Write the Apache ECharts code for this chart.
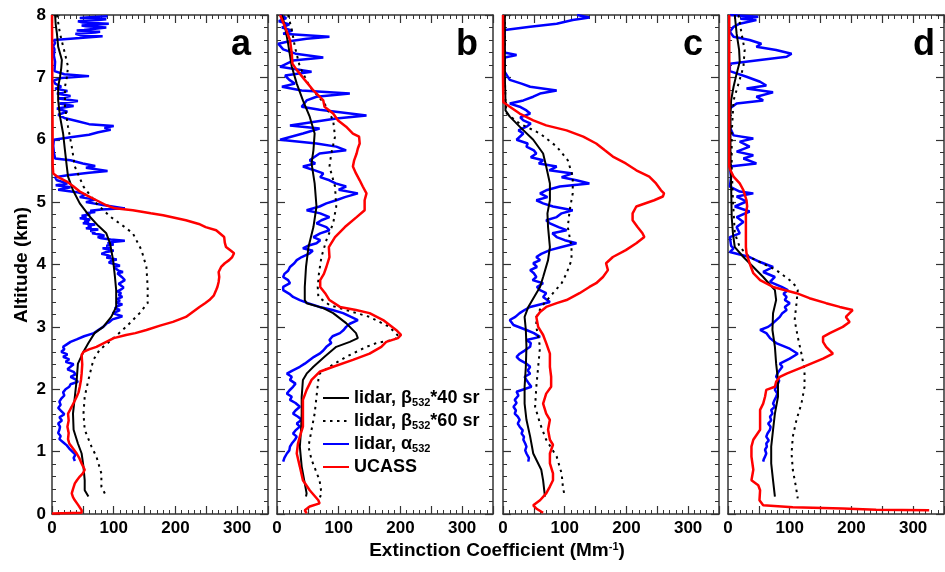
<!DOCTYPE html>
<html lang="en">
<head>
  <meta charset="UTF-8">
  <title>Extinction profiles</title>
  <script src="https://cdn.jsdelivr.net/npm/echarts@6/dist/echarts.min.js"></script>
  <style>
    body { margin: 0; background: #fff; }
    #main { width: 945px; height: 572px; }
  </style>
</head>
<body>
  <div id="main"></div>
  <script type="text/javascript">
    // each point: [altitude km, extinction Mm-1]
    var panelNames = ['a', 'b', 'c', 'd'];
    var xTicks = [0, 100, 200, 300];

    // ---- panel a ----
    var ucassA = [[8.0,0],[7.0,0.5],[6.0,1],[5.6,1],[5.46,2],[5.40,10],[5.33,24],[5.25,35],[5.17,45],[5.10,58],[5.03,72],[4.95,88],[4.90,102],[4.87,131],[4.82,160],[4.79,180],[4.71,217],[4.65,238],[4.60,249],[4.55,266],[4.44,279],[4.35,280],[4.28,282],[4.22,290],[4.18,295],[4.12,292],[4.07,287],[4.02,280],[3.96,274],[3.88,270],[3.80,271],[3.72,270],[3.64,268],[3.59,266],[3.50,262],[3.43,255],[3.38,248],[3.32,239],[3.24,228],[3.16,217],[3.08,196],[3.02,175],[2.95,153],[2.90,135],[2.87,120],[2.82,100],[2.76,88],[2.68,72],[2.64,60],[2.60,51],[2.55,48],[2.40,49],[2.25,48],[2.15,47],[2.04,45],[1.95,43],[1.88,40],[1.80,36],[1.72,32],[1.61,26],[1.50,27],[1.40,25],[1.30,27],[1.20,26],[1.13,28],[1.05,34],[0.97,40],[0.90,44],[0.81,48],[0.71,53],[0.65,50],[0.60,45],[0.55,41],[0.49,37],[0.40,34],[0.33,32],[0.27,34],[0.22,37],[0.15,42],[0.12,45],[0.06,48],[0.02,48],[0.01,0]];
    var beta40A = [[8.0,5],[7.85,6],[7.7,8],[7.49,10],[7.28,16],[7.15,15],[7.01,13],[6.85,10],[6.63,10],[6.37,13],[6.10,18],[5.83,21],[5.57,24],[5.41,26],[5.19,34],[4.98,45],[4.77,61],[4.62,75],[4.50,88],[4.34,94],[4.07,99],[3.80,102],[3.59,104],[3.32,104],[3.16,96],[3.00,83],[2.90,69],[2.74,59],[2.60,51],[2.41,42],[2.15,40],[1.88,37],[1.61,34],[1.35,35],[1.13,42],[0.97,48],[0.76,51],[0.54,53],[0.38,53],[0.28,59]];
    var beta60A = [[8.0,8],[7.7,13],[7.38,21],[7.17,26],[7.0,24],[6.85,21],[6.53,21],[6.21,26],[5.89,32],[5.57,37],[5.25,51],[4.98,72],[4.77,94],[4.62,115],[4.50,131],[4.23,145],[3.96,153],[3.64,155],[3.38,155],[3.22,142],[3.00,120],[2.84,102],[2.63,77],[2.47,67],[2.15,59],[1.88,53],[1.61,51],[1.35,53],[1.08,64],[0.92,72],[0.65,80],[0.44,80],[0.28,88]];
    var alphaA = [[7.98,90],[7.96,55],[7.95,45],[7.93,88],[7.92,75],[7.90,42],[7.88,50],[7.86,92],[7.85,80],[7.83,48],[7.82,55],[7.80,88],[7.78,85],[7.76,52],[7.75,40],[7.73,78],[7.72,70],[7.70,38],[7.68,45],[7.66,82],[7.65,80],[7.63,45],[7.62,30],[7.6,3],[7.55,5],[7.5,2],[7.45,4],[7.35,3],[7.25,5],[7.1,4],[7.05,20],[7.02,60],[6.99,15],[6.95,3],[6.9,5],[6.85,15],[6.82,5],[6.78,25],[6.74,8],[6.7,30],[6.66,10],[6.62,42],[6.58,12],[6.54,35],[6.5,8],[6.45,25],[6.4,10],[6.35,20],[6.3,40],[6.25,60],[6.22,100],[6.19,85],[6.16,95],[6.12,75],[6.08,60],[6.04,30],[6.0,3],[5.9,2],[5.8,3],[5.7,5],[5.67,30],[5.62,50],[5.58,70],[5.55,55],[5.5,90],[5.47,60],[5.43,25],[5.4,5],[5.35,8],[5.3,25],[5.27,6],[5.24,30],[5.2,10],[5.16,40],[5.12,55],[5.08,45],[5.04,70],[5.0,55],[4.95,85],[4.9,118],[4.88,80],[4.86,62],[4.84,70],[4.82,55],[4.8,62],[4.78,48],[4.76,56],[4.74,45],[4.72,62],[4.7,52],[4.68,60],[4.66,50],[4.64,70],[4.62,58],[4.6,64],[4.58,55],[4.56,75],[4.54,62],[4.52,70],[4.5,65],[4.48,78],[4.46,85],[4.44,74],[4.42,80],[4.40,95],[4.38,118],[4.36,98],[4.34,90],[4.32,100],[4.3,88],[4.28,95],[4.26,82],[4.24,92],[4.22,100],[4.2,88],[4.17,80],[4.15,90],[4.13,95],[4.11,88],[4.08,105],[4.06,96],[4.03,92],[4.0,104],[3.98,110],[3.96,100],[3.93,98],[3.9,108],[3.88,115],[3.86,106],[3.83,104],[3.8,113],[3.78,110],[3.75,118],[3.72,116],[3.69,108],[3.66,110],[3.63,116],[3.6,112],[3.57,106],[3.54,112],[3.51,108],[3.48,114],[3.45,106],[3.42,110],[3.39,104],[3.36,114],[3.33,106],[3.3,102],[3.27,110],[3.25,106],[3.22,98],[3.2,104],[3.17,114],[3.15,108],[3.12,98],[3.1,96],[3.07,92],[3.05,88],[3.0,83],[2.95,75],[2.9,68],[2.85,52],[2.8,40],[2.76,30],[2.72,24],[2.68,18],[2.64,20],[2.6,15],[2.56,25],[2.52,18],[2.48,28],[2.44,22],[2.4,35],[2.36,30],[2.32,25],[2.28,35],[2.24,38],[2.2,30],[2.16,38],[2.12,42],[2.08,30],[2.04,28],[2.0,22],[1.95,18],[1.9,20],[1.85,15],[1.8,12],[1.75,14],[1.7,10],[1.65,15],[1.6,20],[1.55,12],[1.5,16],[1.45,10],[1.4,13],[1.35,12],[1.3,10],[1.25,14],[1.2,12],[1.15,18],[1.1,24],[1.05,28],[1.0,33],[0.95,38],[0.9,35],[0.85,37]];

    // ---- panel b ----
    var ucassB = [[8.0,5],[7.81,13],[7.6,21],[7.38,24],[7.22,25],[7.12,32],[6.96,45],[6.79,59],[6.69,69],[6.63,75],[6.53,77],[6.42,91],[6.31,99],[6.21,112],[6.10,123],[6.05,133],[5.94,134],[5.86,131],[5.78,129],[5.67,125],[5.57,123],[5.46,128],[5.35,134],[5.25,139],[5.14,145],[5.03,142],[4.87,142],[4.76,129],[4.60,110],[4.44,94],[4.28,84],[4.12,85],[3.96,80],[3.85,76],[3.75,70],[3.64,70],[3.54,78],[3.43,85],[3.32,102],[3.27,128],[3.22,150],[3.11,172],[2.95,193],[2.87,201],[2.82,196],[2.76,177],[2.68,169],[2.57,150],[2.47,123],[2.36,91],[2.28,69],[2.15,56],[1.99,48],[1.83,42],[1.61,42],[1.40,42],[1.24,37],[1.13,34],[0.97,32],[0.76,37],[0.54,42],[0.38,53],[0.22,67],[0.17,69],[0.12,53],[0.06,45],[0.01,48]];
    var beta40B = [[8.0,8],[7.81,13],[7.54,18],[7.17,24],[6.90,32],[6.63,42],[6.37,53],[6.10,61],[5.83,59],[5.62,56],[5.30,61],[4.93,64],[4.60,59],[4.28,51],[3.96,47],[3.64,45],[3.43,45],[3.38,48],[3.30,75],[3.22,91],[3.06,112],[2.90,128],[2.82,131],[2.76,118],[2.68,96],[2.52,77],[2.36,59],[2.25,48],[2.15,42],[1.88,40],[1.61,40],[1.35,39],[1.08,37],[0.76,40],[0.49,45],[0.33,48],[0.28,47]];
    var beta60B = [[8.0,18],[7.76,24],[7.49,29],[7.17,37],[6.85,53],[6.58,77],[6.31,91],[6.05,94],[5.78,88],[5.57,85],[5.25,94],[4.93,96],[4.66,91],[4.39,80],[4.12,72],[3.86,68],[3.64,66],[3.48,67],[3.35,85],[3.27,112],[3.16,150],[3.00,182],[2.84,198],[2.79,188],[2.74,161],[2.68,145],[2.52,112],[2.36,85],[2.25,69],[2.15,67],[1.88,64],[1.61,61],[1.35,56],[1.08,51],[0.87,56],[0.54,69],[0.33,72],[0.25,69]];
    var alphaB = [[8.0,5],[7.95,15],[7.9,3],[7.85,20],[7.8,8],[7.75,25],[7.7,10],[7.65,85],[7.62,48],[7.58,20],[7.54,2],[7.45,10],[7.38,30],[7.32,75],[7.27,26],[7.17,5],[7.09,56],[7.03,13],[6.96,20],[6.90,29],[6.85,8],[6.79,40],[6.74,118],[6.69,64],[6.63,48],[6.53,40],[6.48,69],[6.39,145],[6.34,96],[6.23,21],[6.18,69],[6.10,42],[6.0,5],[5.94,64],[5.89,96],[5.83,112],[5.78,69],[5.72,60],[5.67,53],[5.62,62],[5.57,42],[5.52,58],[5.46,75],[5.40,70],[5.35,85],[5.30,95],[5.25,112],[5.20,100],[5.14,131],[5.08,110],[5.03,96],[4.98,80],[4.93,69],[4.87,48],[4.82,70],[4.76,85],[4.71,72],[4.66,64],[4.60,80],[4.55,85],[4.50,70],[4.44,59],[4.39,70],[4.34,64],[4.30,50],[4.26,42],[4.22,58],[4.18,53],[4.12,40],[4.07,32],[4.02,28],[3.96,21],[3.90,18],[3.85,12],[3.80,10],[3.75,18],[3.70,21],[3.64,10],[3.59,10],[3.53,20],[3.48,26],[3.43,37],[3.38,50],[3.32,69],[3.27,90],[3.22,107],[3.16,120],[3.11,131],[3.05,118],[3.0,112],[2.95,108],[2.90,102],[2.85,90],[2.79,85],[2.74,88],[2.68,80],[2.62,75],[2.57,69],[2.52,60],[2.47,53],[2.41,45],[2.36,37],[2.30,25],[2.25,16],[2.20,24],[2.15,21],[2.09,30],[2.04,26],[1.98,20],[1.93,16],[1.88,24],[1.83,21],[1.78,30],[1.72,37],[1.66,30],[1.61,26],[1.56,34],[1.51,40],[1.45,32],[1.40,37],[1.34,30],[1.29,26],[1.24,32],[1.19,29],[1.13,24],[1.08,21],[1.02,20],[0.97,16],[0.90,12],[0.84,10]];

    // ---- panel c ----
    var ucassC = [[8.0,0],[7.0,0],[6.6,0.5],[6.58,2],[6.53,11],[6.42,27],[6.31,49],[6.23,70],[6.15,103],[6.05,130],[5.94,151],[5.83,165],[5.73,178],[5.62,199],[5.51,216],[5.41,237],[5.30,248],[5.19,256],[5.14,261],[5.09,259],[5.03,245],[4.93,216],[4.82,210],[4.71,210],[4.60,218],[4.50,226],[4.44,229],[4.34,216],[4.23,199],[4.12,178],[4.02,167],[3.91,170],[3.80,162],[3.70,151],[3.64,140],[3.54,124],[3.43,103],[3.38,87],[3.32,70],[3.24,60],[3.16,54],[3.00,57],[2.87,65],[2.74,70],[2.57,76],[2.36,76],[2.20,78],[2.04,78],[1.93,70],[1.77,65],[1.61,70],[1.51,76],[1.35,73],[1.19,76],[1.11,81],[0.97,76],[0.81,76],[0.65,81],[0.54,81],[0.44,76],[0.33,70],[0.22,60],[0.14,49],[0.08,55],[0.02,65]];
    var beta40C = [[8.0,3],[7.0,3],[6.63,4],[6.47,4],[6.37,11],[6.21,27],[6.0,49],[5.78,65],[5.57,70],[5.30,76],[5.03,76],[4.82,72],[4.60,73],[4.28,76],[4.07,73],[3.80,65],[3.64,60],[3.54,54],[3.32,41],[3.16,35],[2.95,37],[2.68,38],[2.36,37],[2.04,35],[1.77,35],[1.51,38],[1.24,44],[0.97,49],[0.71,62],[0.54,65],[0.28,68]];
    var beta60C = [[8.0,3],[7.0,3],[6.6,4],[6.42,6],[6.26,27],[6.10,60],[5.89,87],[5.67,105],[5.41,113],[5.14,113],[4.87,108],[4.60,105],[4.28,111],[4.07,111],[3.86,103],[3.70,95],[3.54,81],[3.32,62],[3.16,54],[3.00,54],[2.68,60],[2.36,57],[2.04,54],[1.72,52],[1.45,60],[1.19,70],[0.92,87],[0.65,95],[0.44,97],[0.28,100]];
    var alphaC = [[8.0,120],[7.96,140],[7.92,113],[7.86,87],[7.81,44],[7.76,3],[7.6,2],[7.4,2],[7.36,22],[7.32,3],[7.1,2],[6.96,11],[6.9,30],[6.85,44],[6.79,87],[6.74,60],[6.69,49],[6.63,33],[6.58,11],[6.53,27],[6.47,38],[6.42,44],[6.36,28],[6.31,33],[6.26,45],[6.21,38],[6.15,25],[6.10,33],[6.0,22],[5.94,40],[5.89,38],[5.83,50],[5.78,54],[5.72,45],[5.67,65],[5.62,58],[5.57,87],[5.51,75],[5.46,113],[5.40,95],[5.35,119],[5.30,140],[5.25,92],[5.19,70],[5.14,60],[5.08,72],[5.03,54],[4.98,65],[4.93,81],[4.87,113],[4.82,95],[4.76,87],[4.71,70],[4.66,76],[4.60,90],[4.55,103],[4.50,80],[4.44,87],[4.39,100],[4.34,119],[4.28,95],[4.23,76],[4.17,62],[4.12,54],[4.07,60],[4.02,49],[3.96,55],[3.91,44],[3.86,50],[3.80,54],[3.75,48],[3.70,65],[3.64,55],[3.59,60],[3.54,70],[3.48,65],[3.40,76],[3.32,44],[3.27,35],[3.22,27],[3.16,20],[3.11,11],[3.03,17],[2.95,38],[2.90,50],[2.84,60],[2.79,38],[2.74,45],[2.68,44],[2.62,35],[2.57,27],[2.52,22],[2.47,27],[2.41,38],[2.36,44],[2.30,40],[2.25,44],[2.20,35],[2.15,38],[2.09,42],[2.04,46],[1.96,22],[1.90,25],[1.83,19],[1.78,22],[1.72,17],[1.66,21],[1.61,19],[1.56,24],[1.51,27],[1.45,24],[1.40,27],[1.34,32],[1.29,30],[1.24,34],[1.19,33],[1.13,36],[1.08,38],[1.02,36],[0.97,38],[0.90,42],[0.84,41]];

    // ---- panel d ----
    var ucassD = [[8.0,2],[6.0,2],[5.57,2],[5.51,4],[5.41,9],[5.30,19],[5.19,25],[5.03,30],[4.93,31],[4.82,29],[4.50,29],[4.28,29],[4.18,30],[4.02,35],[3.86,41],[3.75,52],[3.64,73],[3.54,111],[3.46,132],[3.38,159],[3.32,181],[3.27,202],[3.22,197],[3.16,191],[3.08,197],[3.00,186],[2.90,165],[2.84,154],[2.76,154],[2.68,159],[2.57,170],[2.49,154],[2.36,122],[2.25,95],[2.20,84],[2.12,78],[2.04,76],[1.99,62],[1.88,60],[1.77,57],[1.67,52],[1.35,52],[1.19,41],[1.08,38],[0.92,38],[0.71,41],[0.54,38],[0.46,49],[0.38,52],[0.22,51],[0.14,57],[0.11,105],[0.09,186],[0.07,240],[0.06,326]];
    var beta40D = [[8.0,11],[7.70,14],[7.44,18],[7.25,19],[7.06,14],[6.85,9],[6.63,5],[6.37,4],[5.83,4],[5.30,5],[4.76,6],[4.50,8],[4.28,11],[4.12,25],[3.96,41],[3.80,57],[3.70,66],[3.59,76],[3.43,78],[3.22,73],[2.95,72],[2.68,76],[2.41,78],[2.15,81],[1.88,81],[1.61,76],[1.35,73],[1.08,70],[0.81,70],[0.54,73],[0.28,76]];
    var beta60D = [[8.0,17],[7.70,22],[7.44,27],[7.17,25],[6.90,17],[6.63,9],[6.10,6],[5.57,6],[5.03,8],[4.50,11],[4.28,19],[4.12,35],[3.91,78],[3.75,100],[3.64,111],[3.59,113],[3.38,111],[3.11,108],[2.84,113],[2.57,119],[2.31,124],[2.04,124],[1.77,119],[1.51,111],[1.24,105],[0.97,103],[0.71,105],[0.44,110],[0.25,113]];
    var alphaD = [[8.0,3],[7.97,49],[7.94,20],[7.92,46],[7.86,19],[7.81,9],[7.73,3],[7.65,9],[7.60,35],[7.54,54],[7.49,46],[7.44,78],[7.38,103],[7.33,95],[7.28,52],[7.22,3],[7.1,3],[7.01,30],[6.93,52],[6.87,62],[6.82,30],[6.76,73],[6.69,46],[6.63,57],[6.58,14],[6.5,3],[6.2,3],[6.07,9],[6.02,41],[5.97,19],[5.89,35],[5.81,14],[5.75,41],[5.70,25],[5.62,46],[5.57,3],[5.4,5],[5.25,3],[5.17,19],[5.14,41],[5.09,14],[5.01,30],[4.93,11],[4.85,35],[4.76,14],[4.68,25],[4.60,14],[4.50,19],[4.44,3],[4.30,5],[4.26,9],[4.20,3],[4.12,35],[4.04,52],[3.96,73],[3.88,57],[3.80,76],[3.72,68],[3.64,87],[3.59,97],[3.53,90],[3.48,95],[3.43,92],[3.38,100],[3.32,92],[3.27,95],[3.22,88],[3.16,84],[3.06,73],[3.00,65],[2.95,52],[2.90,62],[2.82,68],[2.74,78],[2.65,100],[2.57,113],[2.49,100],[2.41,84],[2.36,88],[2.31,84],[2.25,80],[2.20,78],[2.14,83],[2.09,81],[2.04,78],[1.99,76],[1.93,80],[1.88,78],[1.82,75],[1.77,73],[1.72,76],[1.67,70],[1.61,72],[1.56,68],[1.50,70],[1.45,65],[1.40,69],[1.35,68],[1.29,64],[1.24,62],[1.18,66],[1.13,62],[1.08,63],[1.03,60],[0.97,62],[0.92,60],[0.88,58],[0.84,57]];

    var ucass = [ucassA, ucassB, ucassC, ucassD];
    var beta40 = [beta40A, beta40B, beta40C, beta40D];
    var beta60 = [beta60A, beta60B, beta60C, beta60D];
    var alpha = [alphaA, alphaB, alphaC, alphaD];

    var FONT = 'Arial, "Liberation Sans", sans-serif';
    var gridLeft = [52, 277, 503, 728];
    var gridWidth = 216;
    var gridTop = 15;
    var gridHeight = 499;
    var letterPad = [17, 15, 16, 9];
    var frameColor = '#333';
    var colors = { alpha: '#0000ff', beta60: '#000', beta40: '#000', UCASS: '#ff0000' };

    function flip(arr) {
      return arr.map(function(p) { return [p[1], p[0]]; });
    }

    var myCharts = echarts.init(document.getElementById('main'));
    var grids = [], xAxes = [], yAxes = [], series = [], graphics = [];

    for (var i = 0; i < 4; i++) {
      grids.push({ left: gridLeft[i], top: gridTop, width: gridWidth, height: gridHeight });
      [ 'bottom', 'top' ].forEach(function(pos) {
        xAxes.push({
          gridIndex: i,
          type: 'value',
          position: pos,
          min: 0,
          max: 350,
          interval: 50,
          axisLine: { show: true, onZero: false, lineStyle: { color: frameColor, width: 1.5 } },
          axisTick: { show: true, inside: true, length: 8, lineStyle: { color: frameColor, width: 1.2 } },
          minorTick: { show: true, splitNumber: 5, length: 4, lineStyle: { color: frameColor, width: 1 } },
          splitLine: { show: false },
          axisLabel: {
            show: pos === 'bottom',
            margin: 6,
            color: '#000',
            fontSize: 17,
            fontWeight: 'bold',
            fontFamily: FONT,
            showMaxLabel: false,
            formatter: function(v) { return xTicks.indexOf(v) >= 0 ? String(v) : ''; }
          }
        });
      });
      [ 'left', 'right' ].forEach(function(pos) {
        yAxes.push({
          gridIndex: i,
          type: 'value',
          position: pos,
          min: 0,
          max: 8,
          interval: 1,
          axisLine: { show: true, onZero: false, lineStyle: { color: frameColor, width: 1.5 } },
          axisTick: { show: true, inside: true, length: 8, lineStyle: { color: frameColor, width: 1.2 } },
          minorTick: { show: true, splitNumber: 5, length: 4, lineStyle: { color: frameColor, width: 1 } },
          splitLine: { show: false },
          axisLabel: {
            show: pos === 'left' && i === 0,
            margin: 6,
            color: '#000',
            fontSize: 17,
            fontWeight: 'bold',
            fontFamily: FONT
          }
        });
      });

      var common = { type: 'line', xAxisIndex: 2 * i, yAxisIndex: 2 * i, symbol: 'none', silent: true, animation: false };
      series.push(Object.assign({}, common, { name: 'alpha', data: flip(alpha[i]), itemStyle: { color: colors.alpha }, lineStyle: { color: colors.alpha, width: 2.5 } }));
      series.push(Object.assign({}, common, { name: 'beta60', data: flip(beta60[i]), itemStyle: { color: colors.beta60 }, lineStyle: { color: colors.beta60, width: 2, type: [2.5, 4.5] } }));
      series.push(Object.assign({}, common, { name: 'beta40', data: flip(beta40[i]), itemStyle: { color: colors.beta40 }, lineStyle: { color: colors.beta40, width: 2 } }));
      series.push(Object.assign({}, common, { name: 'UCASS', data: flip(ucass[i]), itemStyle: { color: colors.UCASS }, lineStyle: { color: colors.UCASS, width: 2.5 } }));

      graphics.push({
        type: 'text',
        x: gridLeft[i] + gridWidth - letterPad[i],
        y: 45,
        style: { text: panelNames[i], font: 'bold 36px ' + FONT, fill: '#000', textAlign: 'right', textVerticalAlign: 'middle' }
      });
    }

    graphics.push({
      type: 'text',
      x: 22,
      y: 265,
      rotation: Math.PI / 2,
      style: { text: 'Altitude (km)', font: 'bold 19px ' + FONT, fill: '#000', textAlign: 'center', textVerticalAlign: 'middle' }
    });
    graphics.push({
      type: 'text',
      x: 497,
      y: 551,
      style: {
        text: 'Extinction Coefficient (Mm{sup|-1})',
        font: 'bold 19px ' + FONT,
        fill: '#000',
        textAlign: 'center',
        textVerticalAlign: 'middle',
        rich: { sup: { fontSize: 11, fontWeight: 'bold', fontFamily: FONT, verticalAlign: 'top', fill: '#000' } }
      }
    });

    var legendText = {
      beta40: 'lidar, β{s|532}*40 sr',
      beta60: 'lidar, β{s|532}*60 sr',
      alpha: 'lidar, α{s|532}',
      UCASS: 'UCASS'
    };

    var option = {
      animation: false,
      grid: grids,
      xAxis: xAxes,
      yAxis: yAxes,
      legend: {
        data: ['beta40', 'beta60', 'alpha', 'UCASS'],
        orient: 'vertical',
        left: 322,
        top: 388,
        padding: 0,
        itemWidth: 26,
        itemHeight: 14,
        itemGap: 3,
        selectedMode: false,
        itemStyle: { opacity: 0, borderWidth: 0 },
        formatter: function(name) { return legendText[name]; },
        textStyle: {
          color: '#000',
          fontSize: 18,
          fontWeight: 'bold',
          fontFamily: FONT,
          lineHeight: 20,
          rich: {
            s: { fontSize: 11, fontWeight: 'bold', fontFamily: FONT, color: '#000', verticalAlign: 'bottom' }
          }
        }
      },
      graphic: graphics,
      series: series
    };

    myCharts.setOption(option);
  </script>
</body>
</html>
